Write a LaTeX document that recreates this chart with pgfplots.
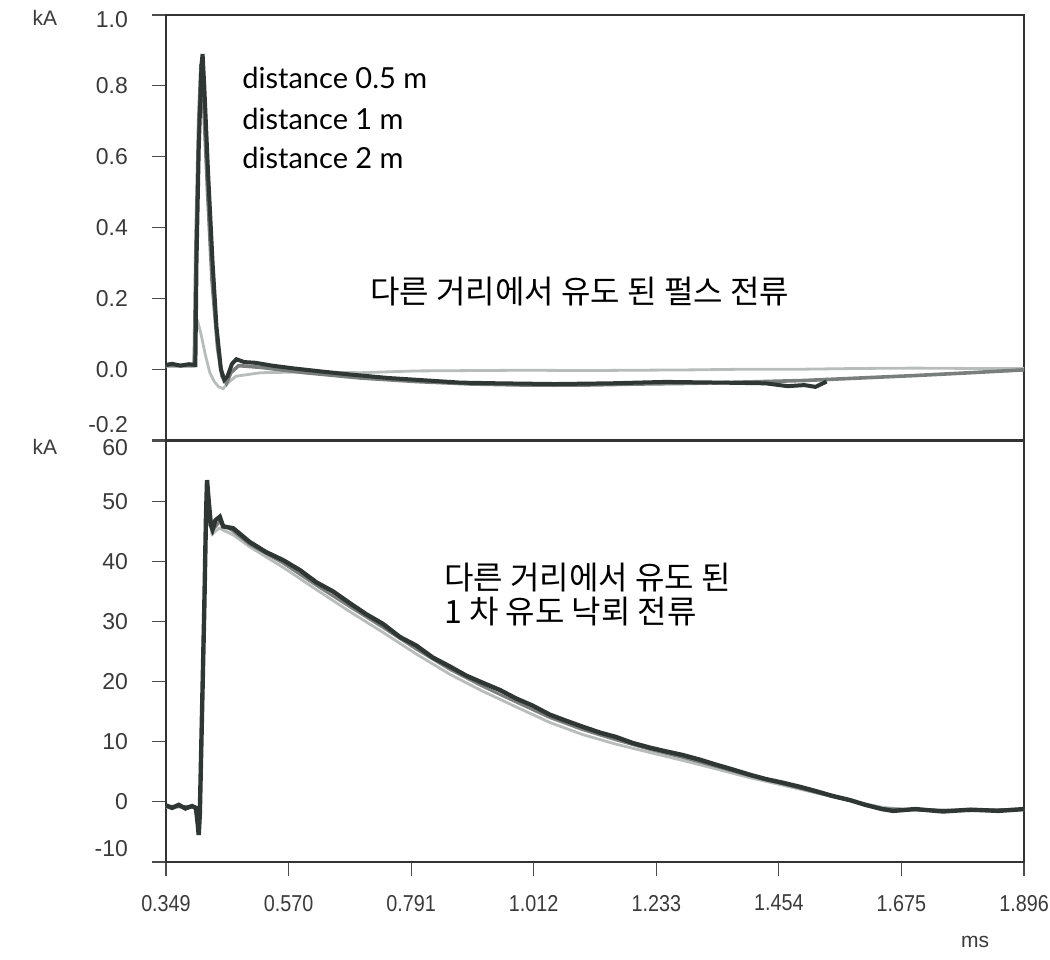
\documentclass[border=0pt]{standalone}
\usepackage{pgfplots}
\pgfplotsset{compat=1.18}
\usepackage{fontspec}
\setmainfont{Liberation Sans}
\newfontfamily\kr{Noto Sans CJK KR}
\newfontfamily\lat{Lato}
\definecolor{trDark}{HTML}{303633}
\definecolor{trMid}{HTML}{7A7E7C}
\definecolor{trLight}{HTML}{B8BCBA}
\definecolor{tickGray}{HTML}{3A3A3A}
\newcommand{\lift}[2]{\raisebox{#1}[0pt][0pt]{#2}}
\newcommand{\cx}[1]{\scalebox{0.86}[1]{#1}}

\pgfplotsset{
  scope/.style={
    scale only axis, width=429pt,
    xmin=0.349, xmax=1.896,
    axis line style={line width=1.1pt, color=black!80},
    tick align=outside, major tick length=7pt,
    tick style={line width=0.6pt, color=black!70},
    ytick pos=left, xtick pos=bottom,
    tick label style={font=\fontsize{11.5}{13}\selectfont, text=tickGray},
    yticklabel style={xshift=-8.5pt},
    xticklabel style={yshift=-6pt},
  }
}

\begin{document}
\begin{tikzpicture}
% lower panel: induced first stroke current
\begin{axis}[scope, at={(0pt,0pt)}, anchor=south west,
    height=210.5pt, ymin=-10, ymax=60,
    ytick={-10,0,10,20,30,40,50,60},
    yticklabels={\lift{3pt}{-10},0,10,20,30,40,50,\lift{-7pt}{60}},
    xtick={0.349,0.570,0.791,1.012,1.233,1.454,1.675,1.896},
    xticklabels={\cx{0.349},\cx{0.570},\cx{0.791},\cx{1.012},\cx{1.233},\cx{1.454},\cx{1.675},\cx{1.896}}]
\addplot[trLight, line width=1.4pt] coordinates {
(0.349,-0.9)(0.400,-0.9)(0.405,-1.5)(0.409,-4.0)(0.412,5)(0.416,25)(0.420,44)(0.423,51)(0.427,47)(0.432,44.5)
(0.445,45.5)(0.470,44.4)(0.500,42.4)(0.560,39.0)(0.620,35.3)(0.681,31.6)(0.740,28.2)(0.800,24.6)
(0.861,21.2)(0.920,18.4)(0.980,15.8)(1.041,13.2)(1.100,11.2)(1.160,9.6)(1.222,8.2)(1.280,6.9)
(1.340,5.5)(1.402,4.0)(1.460,2.8)(1.520,1.5)(1.582,0.2)(1.640,-0.9)(1.700,-1.4)(1.800,-1.5)(1.896,-1.3)};
\addplot[trMid, line width=1.4pt] coordinates {
(0.349,-0.7)(0.400,-0.8)(0.406,-2.5)(0.409,-4.5)(0.413,10)(0.417,30)(0.421,46)(0.423,52.5)(0.427,48)(0.432,45)
(0.445,46.5)(0.470,45.0)(0.500,42.8)(0.560,39.7)(0.620,36.0)(0.681,32.4)(0.740,29.0)(0.800,25.4)
(0.861,22.0)(0.920,19.2)(0.980,16.6)(1.041,14.0)(1.100,12.0)(1.160,10.3)(1.222,8.7)(1.280,7.4)
(1.340,5.9)(1.402,4.3)(1.460,3.0)(1.520,1.6)(1.582,0.2)(1.640,-1.1)(1.700,-1.3)(1.800,-1.4)(1.896,-1.2)};
\addplot[trDark, line width=2.2pt] coordinates {
(0.349,-0.6)(0.360,-1.0)(0.372,-0.5)(0.384,-1.1)(0.396,-0.7)(0.403,-1.0)(0.406,-3.5)(0.408,-5.5)(0.410,-2)
(0.414,15)(0.418,32)(0.421,47)(0.423,53.5)(0.426,50)(0.430,46)(0.433,45.3)(0.438,46.8)(0.446,47.4)
(0.452,45.8)(0.470,45.5)(0.500,43.2)(0.530,41.5)(0.560,40.2)(0.591,38.5)(0.620,36.5)(0.650,35.0)
(0.681,33.0)(0.710,31.2)(0.740,29.6)(0.771,27.4)(0.800,26.0)(0.830,24.0)(0.861,22.5)(0.890,21.0)
(0.920,19.8)(0.951,18.6)(0.980,17.2)(1.010,16.0)(1.041,14.5)(1.070,13.5)(1.100,12.5)(1.132,11.5)
(1.160,10.8)(1.190,9.8)(1.222,9.0)(1.250,8.4)(1.280,7.8)(1.312,7.0)(1.340,6.2)(1.370,5.4)
(1.402,4.5)(1.430,3.8)(1.460,3.2)(1.492,2.5)(1.520,1.8)(1.550,1.0)(1.582,0.3)(1.610,-0.5)
(1.640,-1.2)(1.660,-1.5)(1.700,-1.2)(1.750,-1.6)(1.800,-1.3)(1.850,-1.5)(1.896,-1.2)};
\node[anchor=west, inner sep=0pt, font=\kr\fontsize{16}{19}\selectfont] at (axis cs:0.850,37.3) {다른 거리에서 유도 된};
\node[anchor=west, inner sep=0pt, font=\kr\fontsize{16}{19}\selectfont] at (axis cs:0.850,31.6) {1 차 유도 낙뢰 전류};
\end{axis}

% upper panel: induced pulse current at 0.5, 1 and 2 m
\begin{axis}[scope, at={(0pt,211pt)}, anchor=south west,
    height=212.5pt, ymin=-0.2, ymax=1.0,
    ytick={-0.2,0,0.2,0.4,0.6,0.8,1.0},
    yticklabels={\lift{3.5pt}{-0.2},0.0,0.2,0.4,0.6,0.8,\lift{-6.5pt}{1.0}},
    xtick=\empty]
\addplot[trLight, line width=1.4pt] coordinates {
(0.349,0.008)(0.398,0.008)(0.401,0.06)(0.404,0.12)(0.407,0.13)(0.412,0.10)(0.420,0.04)(0.428,-0.01)
(0.436,-0.035)(0.444,-0.05)(0.452,-0.055)(0.460,-0.04)(0.475,-0.02)(0.520,-0.010)(0.600,-0.008)
(0.700,-0.010)(0.800,-0.005)(0.900,-0.004)(1.000,-0.003)(1.100,-0.004)(1.200,-0.003)(1.300,-0.002)
(1.400,0.000)(1.500,0.000)(1.600,0.002)(1.700,0.003)(1.800,0.002)(1.896,0.002)};
\addplot[trMid, line width=1.8pt] coordinates {
(0.349,0.010)(0.400,0.010)(0.403,0.35)(0.408,0.70)(0.412,0.86)(0.416,0.78)(0.424,0.50)(0.432,0.25)
(0.442,0.06)(0.450,-0.02)(0.458,-0.04)(0.466,-0.01)(0.480,0.010)(0.520,0.005)(0.600,-0.010)
(0.700,-0.025)(0.800,-0.035)(0.900,-0.042)(1.000,-0.045)(1.100,-0.045)(1.200,-0.042)(1.300,-0.040)
(1.400,-0.036)(1.500,-0.032)(1.600,-0.025)(1.700,-0.018)(1.800,-0.010)(1.896,-0.002)};
\addplot[trDark, line width=2.0pt] coordinates {
(0.349,0.012)(0.360,0.015)(0.375,0.010)(0.390,0.014)(0.402,0.012)(0.404,0.30)(0.408,0.62)(0.413,0.86)
(0.415,0.89)(0.418,0.80)(0.425,0.55)(0.433,0.30)(0.440,0.12)(0.448,0.00)(0.454,-0.03)(0.460,-0.02)
(0.468,0.015)(0.476,0.028)(0.490,0.020)(0.510,0.018)(0.540,0.010)(0.580,0.002)(0.620,-0.005)
(0.680,-0.015)(0.750,-0.025)(0.820,-0.032)(0.880,-0.038)(0.950,-0.040)(1.050,-0.042)(1.150,-0.040)
(1.250,-0.036)(1.350,-0.038)(1.430,-0.040)(1.470,-0.048)(1.500,-0.045)(1.520,-0.050)(1.540,-0.035)};
\node[anchor=base west, inner sep=0pt, font=\lat\fontsize{14.5}{17}\selectfont] at (axis cs:0.486,0.792) {distance 0.5 m};
\node[anchor=base west, inner sep=0pt, font=\lat\fontsize{14.5}{17}\selectfont] at (axis cs:0.486,0.678) {distance 1 m};
\node[anchor=base west, inner sep=0pt, font=\lat\fontsize{14.5}{17}\selectfont] at (axis cs:0.486,0.566) {distance 2 m};
\node[anchor=west, inner sep=0pt, font=\kr\fontsize{16}{19}\selectfont] at (axis cs:0.717,0.22) {다른 거리에서 유도 된 펄스 전류};
\end{axis}

\node[font=\fontsize{10.5}{12}\selectfont, text=tickGray] at (-60.5pt,422pt) {kA};
\node[font=\fontsize{10.5}{12}\selectfont, text=tickGray] at (-60.5pt,207.5pt) {kA};
\node[font=\fontsize{10.5}{12}\selectfont, text=tickGray] at (404.5pt,-40pt) {ms};
\pgfresetboundingbox
\path[use as bounding box] (-83pt,-48.5pt) rectangle (442pt,431pt);
\end{tikzpicture}
\end{document}
